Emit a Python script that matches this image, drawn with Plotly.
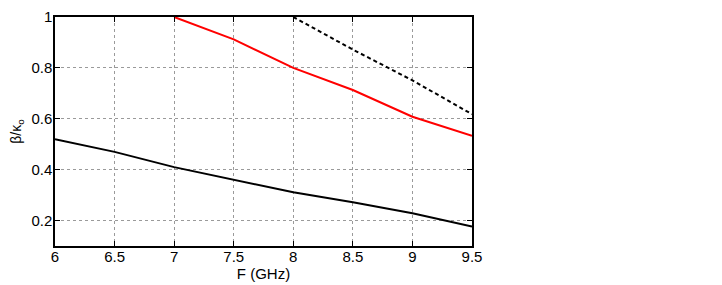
import plotly.graph_objects as go

freq = [6, 6.5, 7, 7.5, 8, 8.5, 9, 9.5]
black_vals = [0.52, 0.47, 0.41, 0.362, 0.311, 0.272, 0.229, 0.177]
red_freq = [7, 7.5, 8, 8.5, 9, 9.5]
red_vals = [1.0, 0.912, 0.80, 0.713, 0.608, 0.533]
dash_freq = [8, 8.5, 9, 9.5]
dash_vals = [1.0, 0.872, 0.751, 0.618]

x_ticks = [6, 6.5, 7, 7.5, 8, 8.5, 9, 9.5]
x_labels = ["6", "6.5", "7", "7.5", "8", "8.5", "9", "9.5"]
y_ticks = [0.2, 0.4, 0.6, 0.8, 1.0]
y_labels = ["0.2", "0.4", "0.6", "0.8", "1"]

fig = go.Figure()
fig.add_trace(go.Scatter(x=freq, y=black_vals, mode="lines",
                         line=dict(color="black", width=2)))
fig.add_trace(go.Scatter(x=red_freq, y=red_vals, mode="lines",
                         line=dict(color="#ff0000", width=2)))
fig.add_trace(go.Scatter(x=dash_freq, y=dash_vals, mode="lines",
                         line=dict(color="black", width=2, dash="4px,3px")))

font = dict(family="Liberation Sans, Arial, sans-serif", size=15, color="black")
tfont = dict(family="Liberation Sans, Arial, sans-serif", size=14, color="black")
axis_common = dict(showline=True, linecolor="black", linewidth=1.5, mirror="ticks",
                   ticks="inside", ticklen=5, tickcolor="black", tickwidth=1,
                   showgrid=True, gridcolor="#9a9a9a", griddash="dot", gridwidth=1,
                   zeroline=False, tickfont=font, automargin=False,
                   ticklabeloverflow="allow")

fig.update_xaxes(range=[6, 9.5], tickvals=x_ticks, ticktext=x_labels,
                 ticklabelstandoff=-4,
                 title=dict(text="F (GHz)", font=font, standoff=3), **axis_common)
fig.update_yaxes(range=[0.1, 1.0], tickvals=y_ticks, ticktext=y_labels,
                 ticklabelstandoff=-2,
                 title=dict(text="β/κ<sub>o</sub>", font=tfont, standoff=10), **axis_common)

# the page adds an 8px offset around the figure; margins compensate for it
fig.update_layout(width=722, height=285, showlegend=False,
                  plot_bgcolor="white", paper_bgcolor="white",
                  margin=dict(l=47, r=258, t=9, b=47))
fig.write_html("out.html")
